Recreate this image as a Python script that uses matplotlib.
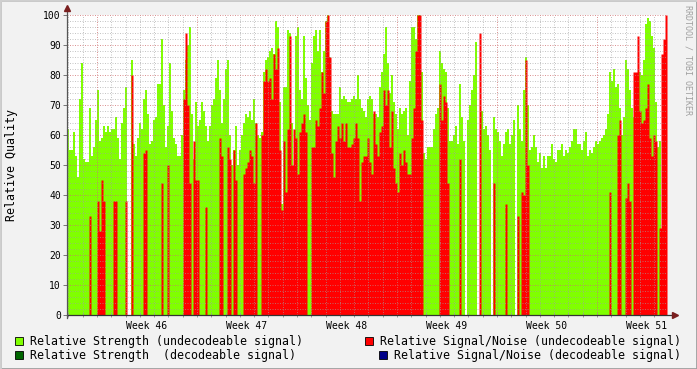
import numpy as np
import matplotlib
matplotlib.use("Agg")
import matplotlib.pyplot as plt
from matplotlib.patches import Rectangle

nan = np.nan

# time axis: days since start of Week 46, one sample every 0.14 day
start_day = -2.1
step_days = 0.14

week_labels = ["Week 46", "Week 47", "Week 48", "Week 49", "Week 50", "Week 51"]
y_ticks = [0, 10, 20, 30, 40, 50, 60, 70, 80, 90, 100]

strength_undec_a = [62,55,55,61,53,46,72,84,52,51,51,69,53,56,65,75,58,59,63,61,63,61,62,62,66,59,52,64,69,76,nan,nan,85,57,53,59,64,62,72,75,67,57,58,65,66,77,77,92,70,56]
strength_undec_b = [63,84,68,59,57,53,53,60,75,85,90,96,67,52,71,63,65,71,68,63,58,63,70,72,79,85,75,64,72,82,85,60,50,55,63,50,55,60,64,67,66,68,65,72,64,60,59,61,81,85]
strength_undec_c = [86,88,89,87,98,96,71,37,76,76,95,94,64,43,93,96,75,72,93,79,70,65,84,93,95,88,95,81,88,98,100,86,68,67,67,67,76,72,73,72,71,71,72,73,72,80,72,69,68,66]
strength_undec_d = [72,73,72,67,67,66,76,81,87,96,84,74,80,71,67,62,69,67,68,69,60,78,96,96,92,100,100,81,54,52,56,56,56,62,67,69,88,84,82,81,69,58,58,60,63,57,77,66,58,nan]
strength_undec_e = [65,70,75,80,91,nan,nan,68,62,63,60,55,nan,66,62,61,58,53,57,61,62,57,60,65,nan,70,62,58,75,86,70,55,56,60,56,51,54,49,53,49,53,53,57,52,51,55,55,57,53,55]
strength_undec_f = [54,56,58,62,62,57,57,55,58,61,53,55,54,56,58,57,58,59,60,62,67,81,78,82,76,77,69,60,66,85,82,75,69,66,80,78,81,80,85,97,99,98,93,89,71,56,58,nan,nan,nan]

snr_undec_a = [0,0,0,0,0,0,0,0,0,0, 0,33,0,0,0,38,28,45,38,0, 0,0,0,38,38,0,0,0,0,38, 0,0,80,0,0,0,0,0,54,55, 0,0,0,0,0,0,0,44,0,0]
snr_undec_b = [50,0,0,0,0,0,0,0,72,94, 70,44,0,58,45,45,0,0,0,36, 0,0,0,0,0,0,59,53,0,0, 56,52,0,55,45,0,0,0,47,49, 51,55,53,44,64,0,0,60,78,82]
snr_undec_c = [78,79,72,87,82,89,55,35,58,41,62,93,50,62,59,47,61,64,67,61,0,0,56,56,65,63,69,81,74,98,100,86,54,46,58,63,59,64,58,64,56,56,57,59,64,59,38,51,53,53]
snr_undec_d = [59,51,47,68,57,53,61,63,75,70,75,56,68,49,44,41,54,50,55,51,47,47,59,69,88,100,100,65,0,0,0,0,0,0,0,0,77,65,73,71,44,0,0,0,0,0,52,0,0,0]
snr_undec_e = [0,0,0,0,0,0,94,0,0,0, 0,0,0,44,0,0,0,0,0,37, 0,0,0,0,0,33,0,41,40,85, 50,0,0,0,0,0,0,0,0,0, 0,0,0,0,0,0,0,0,0,0]
snr_undec_f = [0,0,0,0,0,0,0,0,0,0, 0,0,0,0,0,0,0,0,0,0, 0,41,0,0,0,60,65,0,0,39, 44,38,0,81,81,93,68,64,65,69, 77,59,53,60,58,0,29,87,92,100]

strength_undec = (strength_undec_a + strength_undec_b + strength_undec_c +
                  strength_undec_d + strength_undec_e + strength_undec_f)
snr_undec = snr_undec_a + snr_undec_b + snr_undec_c + snr_undec_d + snr_undec_e + snr_undec_f

legend_entries = [
    ("Relative Strength (undecodeable signal)", "#80FF00"),
    ("Relative Strength  (decodeable signal)", "#006600"),
    ("Relative Signal/Noise (undecodeable signal)", "#FF0000"),
    ("Relative Signal/Noise (decodeable signal)", "#000088"),
]

W, H = 697, 369
fig = plt.figure(figsize=(W / 100, H / 100), dpi=100, facecolor="#F2F2F2")
ax = fig.add_axes([67 / W, (H - 315) / H, 600 / W, 300 / H])
ax.set_facecolor("white")

n = len(strength_undec)
edges = start_day + step_days * np.arange(n + 1)


def steps(vals):
    v = np.asarray(vals, float)
    x = np.repeat(edges, 2)[1:-1]
    y = np.repeat(v, 2)
    return x, y


xg, yg = steps(strength_undec)
ax.fill_between(xg, 0, yg, color="#80FF00", lw=0, zorder=1)
xr, yr = steps(snr_undec)
ax.fill_between(xr, 0, yr, color="#FF0000", lw=0, zorder=2)

x0, x1 = edges[0], edges[-1]
ax.set_xlim(x0, x1)
ax.set_ylim(0, 100)

# grid
for v in np.arange(2, 101, 2):
    if v % 10 == 0:
        ax.axhline(v, color="#D07070", lw=0.72, ls=(0, (1, 1.5)), alpha=0.75, zorder=3)
    else:
        ax.axhline(v, color="#A0A0A0", lw=0.72, ls=(0, (1, 1.5)), alpha=0.6, zorder=3)
for d in range(-2, 40):
    if d % 7 == 0:
        ax.axvline(d, color="#D07070", lw=0.72, ls=(0, (1, 1.5)), alpha=0.75, zorder=3)
    else:
        ax.axvline(d, color="#A0A0A0", lw=0.72, ls=(0, (1, 1.5)), alpha=0.6, zorder=3)

for s in ax.spines.values():
    s.set_visible(False)

# axes lines with arrows
ax.plot([0, 1.013], [0, 0], transform=ax.transAxes, color="#333333", lw=0.9, clip_on=False, zorder=5)
ax.plot([0, 0], [-0.01, 1.02], transform=ax.transAxes, color="#555555", lw=0.9, clip_on=False, zorder=5)
ax.plot([1.013], [0], transform=ax.transAxes, marker=">", color="#7A1F1F", ms=4, clip_on=False, zorder=6)
ax.plot([0], [1.022], transform=ax.transAxes, marker="^", color="#7A1F1F", ms=4, clip_on=False, zorder=6)

# ticks
centers = [3.5 + 7 * k for k in range(len(week_labels))]
ax.set_xticks(centers)
ax.set_xticklabels(week_labels, fontfamily="DejaVu Sans Mono", fontsize=7)
ax.tick_params(axis="x", length=0, pad=4.5)
ax.set_xticks(np.arange(-2, 40, 1), minor=True)
ax.tick_params(axis="x", which="minor", length=2.5, direction="inout", color="#999999", width=0.7)
ax.set_yticks(y_ticks)
ax.set_yticklabels([str(v) for v in y_ticks], fontfamily="DejaVu Sans Mono", fontsize=7)
ax.tick_params(axis="y", length=3, direction="out", color="#777777", width=0.7, pad=1.5)

fig.text(12 / W, 1 - 165 / H, "Relative Quality", rotation=90, ha="center", va="center",
         fontfamily="DejaVu Sans Mono", fontsize=8.4)
fig.text(688 / W, 1 - 60 / H, "RRDTOOL / TOBI OETIKER", rotation=270, ha="center", va="center",
         fontfamily="DejaVu Sans Mono", fontsize=6.0, color="#A0A0A0")

# legend: (box x, row centre y, text x, text alignment)
legend_pos = [(15, 341, 30, "left"), (15, 355, 30, "left"),
              (365, 341, 681, "right"), (379, 355, 681, "right")]
for (label, col), (bx, cy, tx, ha) in zip(legend_entries, legend_pos):
    fig.add_artist(Rectangle((bx / W, 1 - (cy + 4) / H), 8 / W, 8 / H, transform=fig.transFigure,
                             facecolor=col, edgecolor="black", lw=0.6))
    fig.text(tx / W, 1 - cy / H, label, ha=ha, va="center",
             fontfamily="DejaVu Sans Mono", fontsize=8.35)

# border (shade)
fig.add_artist(Rectangle((0, 0), 1, 1, transform=fig.transFigure, fill=False,
                         edgecolor="#9E9E9E", lw=2))
fig.add_artist(plt.Line2D([0, 0], [0, 1], transform=fig.transFigure, color="#CFCFCF", lw=2))
fig.add_artist(plt.Line2D([0, 1], [1, 1], transform=fig.transFigure, color="#CFCFCF", lw=2))

fig.savefig("out.png", dpi=100, facecolor=fig.get_facecolor())
